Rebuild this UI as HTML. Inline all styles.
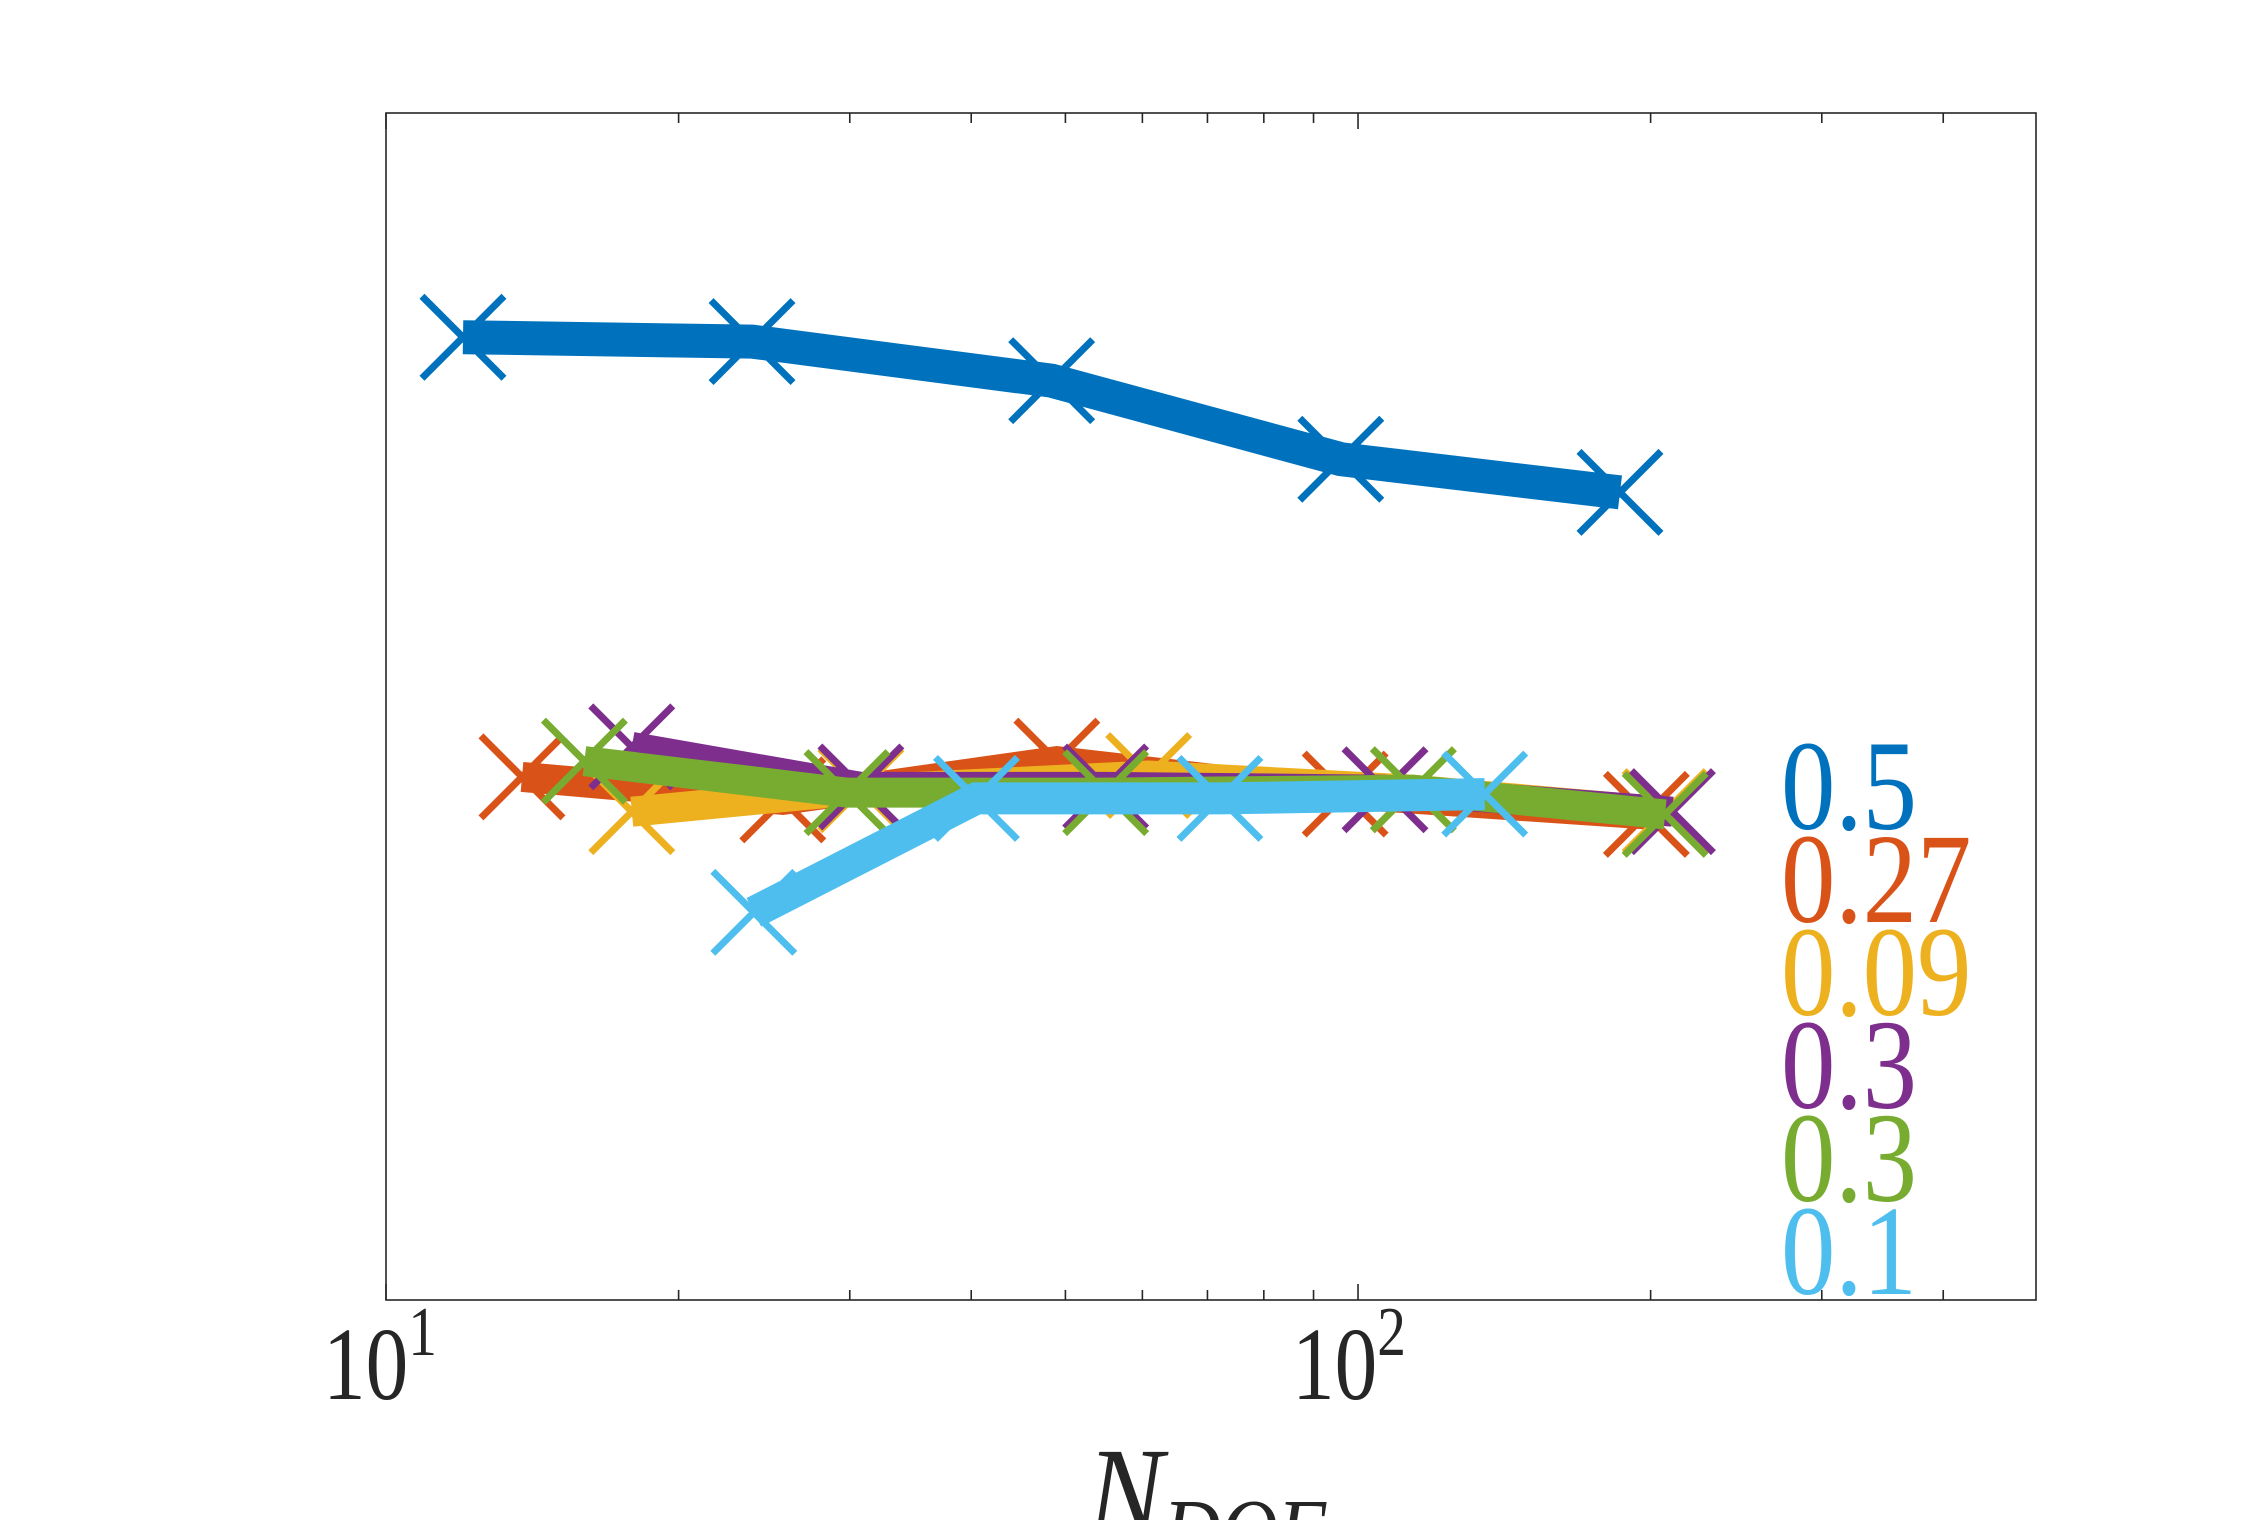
<!DOCTYPE html>
<html><head><meta charset="utf-8"><style>
html,body{margin:0;padding:0;background:#fff;}
svg{display:block;}
text{font-family:"Liberation Serif",serif;}
</style></head>
<body>
<svg id="chart" width="2250" height="1520" viewBox="0 0 2250 1520" xmlns="http://www.w3.org/2000/svg">
<g id="plot"></g>
<rect x="386" y="113" width="1650" height="1187" fill="none" stroke="#262626" stroke-width="1.6"/>
<g id="ticks"></g>
<g transform="translate(323,1399) scale(0.82,1)"><text x="0" y="0" font-size="104" fill="#262626">10<tspan font-size="70" dy="-44">1</tspan></text></g>
<g transform="translate(1292,1399) scale(0.82,1)"><text x="0" y="0" font-size="104" fill="#262626">10<tspan font-size="70" dy="-44">2</tspan></text></g>
<g transform="translate(1087,1537) scale(0.88,1)"><text x="0" y="0" font-size="130" font-style="italic" fill="#262626">N<tspan font-size="90" dy="24">DOF</tspan></text></g>
<g id="legend"></g>
</svg>
<script>
const seriesLabels = ["0.5","0.27","0.09","0.3","0.3","0.1"];
const seriesColors = ["#0072BD","#D95319","#EDB120","#7E2F8E","#77AC30","#4DBEEE"];
const xBlue = [12, 23.8, 48.4, 96, 186];
const yBlue = [0.419, 0.412, 0.354, 0.261, 0.2295];
const xOrange = [13.8, 25.6, 49, 97, 198];
const yOrange = [0.0761, 0.0696, 0.0809, 0.0712, 0.0658];
const xYellow = [17.9, 30.8, 60.9, 114, 207];
const yYellow = [0.0665, 0.0724, 0.0765, 0.0724, 0.0665];
const xPurple = [17.9, 30.8, 55, 106.6, 210.6];
const yPurple = [0.0855, 0.0732, 0.0732, 0.0724, 0.0665];
const xGreen = [16, 29.8, 55, 114, 207];
const yGreen = [0.0809, 0.0716, 0.0716, 0.0724, 0.0658];
const xLight = [23.9, 40.5, 72.1, 135];
const yLight = [0.045, 0.070, 0.070, 0.0712];
const xTicksMajor = [10, 100];
const xTicksMinor = [20, 30, 40, 50, 60, 70, 80, 90, 200, 300, 400];

const L = 386, R = 2036, T = 113, B = 1300;
const XMIN = 10, XMAX = 10 ** 2.6975, YMIN = 0.01, YMAX = 1;
function xs(v){ return L + (Math.log10(v) - Math.log10(XMIN)) / (Math.log10(XMAX) - Math.log10(XMIN)) * (R - L); }
function ys(v){ return B - (Math.log10(v) - Math.log10(YMIN)) / (Math.log10(YMAX) - Math.log10(YMIN)) * (B - T); }
const NS = "http://www.w3.org/2000/svg";
const plot = document.getElementById('plot');
const series = [[xBlue,yBlue],[xOrange,yOrange],[xYellow,yYellow],[xPurple,yPurple],[xGreen,yGreen],[xLight,yLight]];
const names = ["series-0-5","series-0-27","series-0-09","series-0-3-purple","series-0-3-green","series-0-1"];
const widths = [34, 30, 30, 30, 30, 32];
series.forEach((s, i) => {
  const g = document.createElementNS(NS, 'g');
  
  
  const pts = s[0].map((x, j) => xs(x).toFixed(1) + ',' + ys(s[1][j]).toFixed(1)).join(' ');
  const line = document.createElementNS(NS, 'polyline');
  
  
  line.setAttribute('points', pts);
  line.setAttribute('fill', 'none');
  line.setAttribute('stroke', seriesColors[i]);
  line.setAttribute('stroke-width', widths[i]);
  line.setAttribute('stroke-linejoin', 'miter');
  line.setAttribute('stroke-linecap', 'butt');
  g.appendChild(line);
  s[0].forEach((x, j) => {
    const cx = xs(x), cy = ys(s[1][j]), h = 41;
    const m = document.createElementNS(NS, 'path');
    
    
    m.setAttribute('d', `M${cx-h},${cy-h}L${cx+h},${cy+h}M${cx-h},${cy+h}L${cx+h},${cy-h}`);
    m.setAttribute('stroke', seriesColors[i]);
    m.setAttribute('stroke-width', 7);
    g.appendChild(m);
  });
  plot.appendChild(g);
});
const ticks = document.getElementById('ticks');
function tick(v, len){
  const x = xs(v);
  [[B, B - len], [T, T + len]].forEach(p => {
    const t = document.createElementNS(NS, 'line');
    
    
    t.setAttribute('x1', x); t.setAttribute('x2', x);
    t.setAttribute('y1', p[0]); t.setAttribute('y2', p[1]);
    t.setAttribute('stroke', '#262626');
    t.setAttribute('stroke-width', 1.6);
    ticks.appendChild(t);
  });
}
xTicksMajor.forEach(v => tick(v, 16));
xTicksMinor.forEach(v => tick(v, 10));
const legend = document.getElementById('legend');
seriesLabels.forEach((lab, i) => {
  const t = document.createElementNS(NS, 'text');
  
  
  t.setAttribute('transform', `translate(1781,${829 + i * 93}) scale(0.85,1)`);
  t.setAttribute('x', 0);
  t.setAttribute('y', 0);
  t.setAttribute('font-size', 128);
  t.setAttribute('fill', seriesColors[i]);
  t.textContent = lab;
  legend.appendChild(t);
});
</script>
</body></html>
